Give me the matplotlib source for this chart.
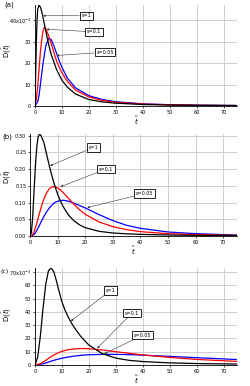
import matplotlib
matplotlib.use("Agg")
import matplotlib.pyplot as plt
import numpy as np

# ---- panel (a), values x10^-3
ta_k = [0, 0.25, 0.5, 0.75, 1, 1.5, 2, 2.5, 3, 4, 5, 6, 7, 8, 10, 12, 15, 20, 25, 30, 40, 50, 60, 75]
da_k = [0, 15, 30, 40, 45, 47, 46, 44, 41, 35, 29, 24, 20.5, 17, 12, 8.8, 5.6, 3, 1.9, 1.3, 0.7, 0.45, 0.3, 0.18]
ta_r = [0, 0.5, 1, 1.5, 2, 2.5, 3, 3.5, 4, 5, 6, 7, 8, 9, 10, 12, 15, 20, 25, 30, 40, 50, 60, 75]
da_r = [0, 3, 9, 17, 25, 31, 35, 36.6, 36, 33, 29, 25, 21, 18, 15.5, 11.5, 7.5, 4.2, 2.6, 1.7, 0.9, 0.55, 0.35, 0.2]
ta_b = [0, 1, 1.5, 2, 3, 4, 5, 6, 7, 8, 9, 10, 12, 15, 20, 25, 30, 40, 50, 60, 75]
da_b = [0, 2, 5, 10, 20, 28, 31.5, 31, 28, 24.5, 21, 18, 13, 8.5, 4.8, 3, 2, 1, 0.6, 0.4, 0.25]

# ---- panel (b)
tb = [0, 0.5, 1, 1.5, 2, 2.5, 3, 3.5, 4, 5, 6, 7, 8, 9, 10, 11, 12, 14, 16, 18, 20, 25, 30, 35, 40, 50, 60, 75]
db_k = [0, 0.01, 0.06, 0.14, 0.215, 0.27, 0.298, 0.305, 0.3, 0.28, 0.245, 0.21, 0.178, 0.15, 0.125, 0.105,
        0.088, 0.062, 0.045, 0.033, 0.025, 0.014, 0.009, 0.0065, 0.005, 0.003, 0.002, 0.0012]
db_r = [0, 0.001, 0.005, 0.013, 0.025, 0.04, 0.055, 0.07, 0.085, 0.11, 0.129, 0.141, 0.147, 0.147, 0.144, 0.138,
        0.13, 0.112, 0.094, 0.078, 0.065, 0.042, 0.028, 0.019, 0.013, 0.007, 0.004, 0.002]
db_b = [0, 0.0005, 0.002, 0.005, 0.01, 0.017, 0.025, 0.033, 0.042, 0.058, 0.072, 0.084, 0.093, 0.1, 0.104, 0.106,
        0.107, 0.104, 0.098, 0.091, 0.084, 0.064, 0.046, 0.032, 0.023, 0.012, 0.007, 0.003]

# ---- panel (c), values x10^-3
tc_k = [0, 1, 2, 3, 4, 5, 6, 7, 8, 9, 10, 11, 12, 13, 14, 15, 17, 20, 25, 30, 35, 40, 50, 60, 75]
dc_k = [0, 6, 22, 43, 61, 71, 73, 70, 63, 55, 47.5, 42, 37.5, 33.5, 30, 27, 21.5, 15, 8.5, 5.2, 3.5, 2.6, 1.6, 1.1, 0.7]
tc = [0, 2, 4, 6, 8, 10, 12, 15, 18, 20, 25, 30, 35, 40, 50, 60, 75]
dc_r = [0, 1, 3.5, 6.3, 8.6, 10.3, 11.4, 12.2, 12.4, 12.2, 11.3, 10, 8.8, 7.6, 5.7, 4.2, 2.7]
dc_b = [0, 0.4, 1.5, 2.9, 4.1, 5.1, 5.9, 6.8, 7.5, 7.7, 8.0, 8.0, 7.8, 7.4, 6.5, 5.5, 4.1]

labels = ["s=1", "s=0.1", "s=0.05"]

W, H = 250, 386
fig = plt.figure(figsize=(W / 100, H / 100), dpi=100)
fs = 3.6


def make_ax(left, right, bottom, top, ylab_y):
    ax = fig.add_axes([left / W, 1 - bottom / H, (right - left) / W, (bottom - top) / H])
    ax.spines["top"].set_visible(False)
    ax.spines["right"].set_visible(False)
    for s in ["left", "bottom"]:
        ax.spines[s].set_linewidth(0.6)
    ax.grid(True, color="#c8c8c8", linewidth=0.6)
    ax.set_axisbelow(True)
    ax.tick_params(labelsize=fs, length=1.5, width=0.5, pad=1.2)
    ax.set_xlim(0, 75)
    ax.set_xticks(np.arange(0, 80, 10))
    ax.set_xlabel(r"$\tilde{t}$", fontsize=5, labelpad=0)
    ax.set_ylabel(r"D($\tilde{t}$)", fontsize=5)
    ax.yaxis.set_label_coords((13 - left) / (right - left), ylab_y)
    return ax


def note(ax, text, tip, box):
    ax.annotate(text, xy=tip, xytext=box, fontsize=3.5, ha="center", va="center",
                bbox=dict(boxstyle="square,pad=0.35", fc="white", ec="black", lw=0.6),
                arrowprops=dict(arrowstyle="-|>", color="#333333", lw=0.4, mutation_scale=3,
                                shrinkA=0, shrinkB=0))


# (a)
ax = make_ax(35, 237, 106, 5, 0.55)
ax.plot(ta_b, da_b, color="blue", lw=0.9)
ax.plot(ta_r, da_r, color="red", lw=0.9)
ax.plot(ta_k, da_k, color="black", lw=0.9)
ax.set_ylim(0, 47)
ax.set_yticks([0, 10, 20, 30, 40])
ax.set_yticklabels(["0", "10", "20", "30", "40x10$^{-3}$"])
note(ax, labels[0], (3.0, 42), (19, 42))
note(ax, labels[1], (4.3, 35.7), (22, 34.5))
note(ax, labels[2], (8, 23.5), (26, 25))
fig.text(4 / W, 1 - 5 / H, "(a)", fontsize=5, va="center")

# (b)
ax = make_ax(30, 237, 236, 134, 0.58)
ax.plot(tb, db_b, color="blue", lw=0.9)
ax.plot(tb, db_r, color="red", lw=0.9)
ax.plot(tb, db_k, color="black", lw=0.9)
ax.set_ylim(0, 0.305)
ax.set_yticks(np.arange(0, 0.31, 0.05))
ax.set_yticklabels(["%.2f" % v for v in np.arange(0, 0.31, 0.05)])
note(ax, labels[0], (7.3, 0.21), (23, 0.265))
note(ax, labels[1], (11, 0.147), (27.5, 0.2))
note(ax, labels[2], (20.8, 0.085), (41.5, 0.127))
fig.text(2 / W, 1 - 137 / H, "(b)", fontsize=5, va="center")

# (c)
ax = make_ax(35, 237, 365, 268, 0.52)
ax.plot(tc, dc_b, color="blue", lw=0.9)
ax.plot(tc, dc_r, color="red", lw=0.9)
ax.plot(tc_k, dc_k, color="black", lw=0.9)
ax.set_ylim(0, 73)
ax.set_yticks(np.arange(0, 71, 10))
ax.set_yticklabels(["0", "10", "20", "30", "40", "50", "60", "70x10$^{-3}$"])
note(ax, labels[0], (13.3, 33), (28, 56))
note(ax, labels[1], (23.1, 12.5), (36, 39))
note(ax, labels[2], (25.7, 8.3), (40, 22.5))
fig.text(0.5 / W, 1 - 271 / H, "(c)", fontsize=4.5, va="center")

fig.savefig("out.png", dpi=100)
